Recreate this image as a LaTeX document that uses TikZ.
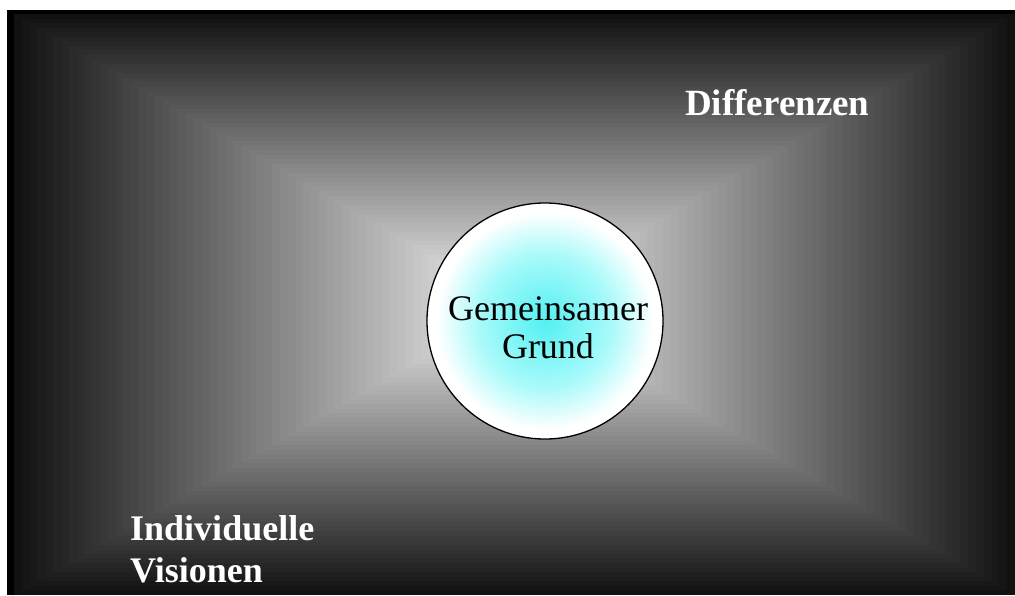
\documentclass[tikz,border=0pt]{standalone}
\usepackage{fontspec}
\setmainfont{Liberation Serif}
\definecolor{ballcore}{rgb}{0.33,0.94,0.95}
\definecolor{ballmid}{rgb}{0.66,0.98,0.98}
\pgfdeclareradialshading{groundshade}{\pgfpoint{0bp}{0bp}}{color(0bp)=(ballcore); color(14bp)=(ballmid); color(23bp)=(white); color(50bp)=(white)}
\begin{document}
\begin{tikzpicture}[x=1pt,y=-1pt,
  bigbold/.style={text=white,font=\fontsize{36}{42}\selectfont\bfseries,inner sep=0pt,anchor=base west,align=left},
  centertext/.style={font=\fontsize{36}{38}\selectfont,align=center,text=black}]
\useasboundingbox (0,0) rectangle (1015,595);
% black frame strip
\fill[black] (7,10) rectangle (1015,595);
% rectangular (path) gradient from dark edges to light centre
\def\xa{14}\def\ya{14}\def\xb{1015}\def\yb{595}
\foreach \i in {0,...,63}{
  \pgfmathsetmacro\f{\i/64}
  \pgfmathsetmacro\g{(17+(240-17)*\i/63)/255}
  \definecolor{bandc}{gray}{\g}
  \pgfmathsetmacro\cx{(\xa+\xb)/2}
  \pgfmathsetmacro\cy{(\ya+\yb)/2}
  \pgfmathsetmacro\hw{(\xb-\xa)/2*(1-\f)}
  \pgfmathsetmacro\hh{(\yb-\ya)/2*(1-\f)}
  \fill[bandc] (\cx-\hw,\cy-\hh) rectangle (\cx+\hw,\cy+\hh);
}
% central circle
\node[circle,draw=black,line width=1.3pt,minimum size=236pt,inner sep=0pt,
      shading=groundshade] (ground) at (545,321) {};
\node[centertext] (gtext) at (548,328) {Gemeinsamer\\Grund};
\node[bigbold,font=\fontsize{37}{42}\selectfont\bfseries] (diff) at (685,115) {Differenzen};
\node[bigbold] (indiv) at (130,540) {Individuelle};
\node[bigbold] (vis) at (130,582) {Visionen};
\end{tikzpicture}
\end{document}
